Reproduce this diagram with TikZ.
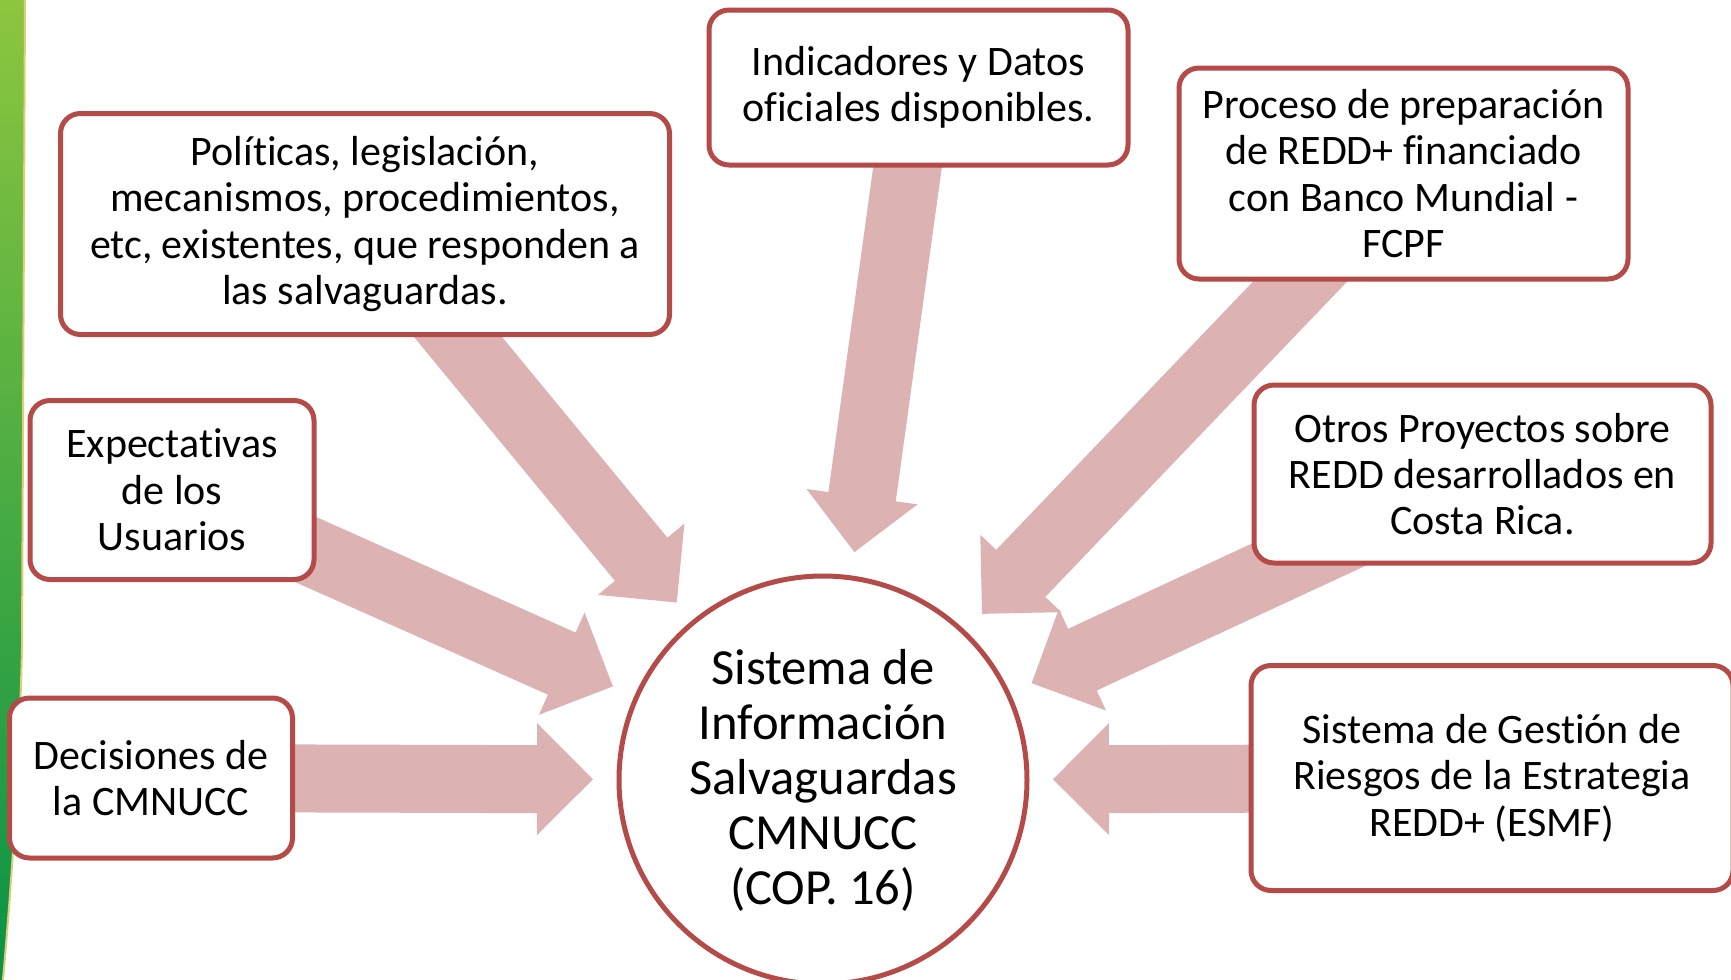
\documentclass[tikz,border=0pt]{standalone}
\usepackage{fontspec}
\setmainfont{Carlito}[Ligatures=NoCommon]
\usetikzlibrary{calc,backgrounds}
\definecolor{boxred}{RGB}{180,75,72}
\definecolor{arrowfill}{RGB}{221,178,178}
\definecolor{barlight}{RGB}{141,198,63}
\definecolor{bardark}{RGB}{8,146,70}
\definecolor{baredge}{RGB}{222,206,120}
\tikzset{
  infobox/.style={rectangle, rounded corners=10pt, draw=boxred, line width=2.5pt,
                  fill=white, align=center, inner sep=0pt,
                  font=\fontsize{21}{23.2}\selectfont},
  hub/.style={circle, draw=boxred, line width=2.5pt, fill=white, align=center,
              inner sep=0pt, minimum size=204pt,
              font=\fontsize{25.3}{27.5}\selectfont},
  blockarrow/.style={to path={let \p1=($(\tikztotarget)!115pt!(\tikztostart)$),
      \p2=($(\p1)!28pt!(\tikztostart)$) in
      ($(\tikztostart)!17pt!90:(\p1)$) -- ($(\p2)!17pt!90:(\p1)$)
      -- ($(\p2)!28pt!90:(\p1)$) -- (\p1) -- ($(\p2)!28pt!-90:(\p1)$)
      -- ($(\p2)!17pt!-90:(\p1)$) -- ($(\tikztostart)!17pt!-90:(\p1)$) -- cycle}}
}

\begin{document}
\begin{tikzpicture}[x=0.5pt,y=-0.5pt]
  \useasboundingbox (0,0) rectangle (1731,980);
  % green band on the left
  \shade[top color=barlight, bottom color=bardark]
    (0,0) -- (25,0) -- (22,650) .. controls (18,800) and (10,900) .. (3,980) -- (0,980) -- cycle;
  \draw[baredge, line width=1pt] (25,0) -- (22,650) .. controls (18,800) and (10,900) .. (3,980);

  \node[hub] (sis) at (823,780) {Sistema de\\Información\\Salvaguardas\\CMNUCC\\(COP. 16)};

  \node[infobox, minimum width=304.5pt, minimum height=110.5pt] (pol) at (365,224)
    {Políticas, legislación,\\mecanismos, procedimientos,\\etc, existentes, que responden a\\las salvaguardas.};
  \node[infobox, minimum width=209.5pt, minimum height=77.5pt] (ind) at (918.5,87.5)
    {Indicadores y Datos\\oficiales disponibles.};
  \node[infobox, minimum width=224.5pt, minimum height=105.5pt] (pro) at (1403.5,173.5)
    {Proceso de preparación\\de REDD+ financiado\\con Banco Mundial -\\FCPF};
  \node[infobox, minimum width=142pt, minimum height=89.5pt] (exp) at (172,490)
    {Expectativas\\de los\\Usuarios};
  \node[infobox, minimum width=228.5pt, minimum height=89pt] (otr) at (1482.5,474)
    {Otros Proyectos sobre\\REDD desarrollados en\\Costa Rica.};
  \node[infobox, minimum width=141.5pt, minimum height=80pt] (dec) at (151,778)
    {Decisiones de\\la CMNUCC};
  \node[infobox, minimum width=241pt, minimum height=112.5pt] (ges) at (1492,778)
    {Sistema de Gestión de\\Riesgos de la Estrategia\\REDD+ (ESMF)};

  % block arrows into the circle
  \begin{scope}[on background layer]
    \foreach \src in {pol,ind,pro,exp,otr,dec,ges}
      \fill[arrowfill] (\src) to[blockarrow] (sis);
  \end{scope}
\end{tikzpicture}
\end{document}
